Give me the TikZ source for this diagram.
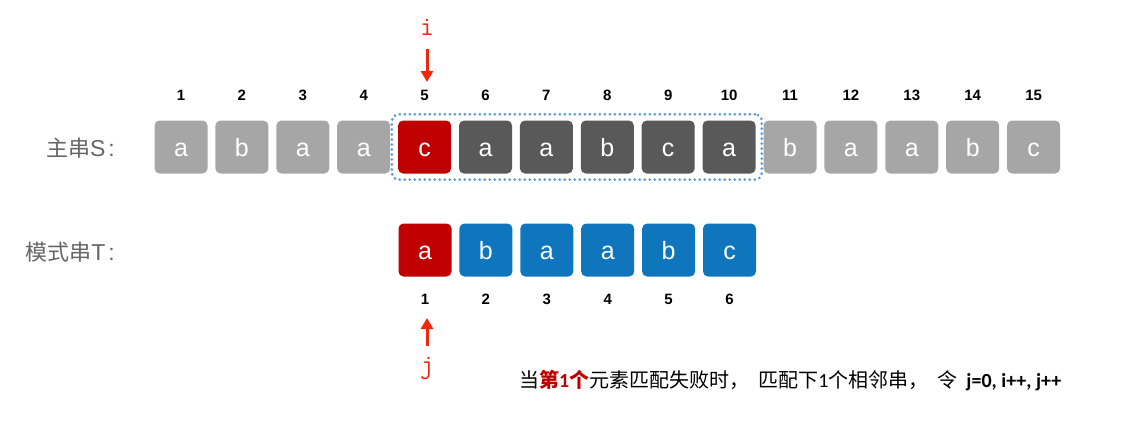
\documentclass[tikz,border=0pt]{standalone}
\usepackage{fontspec}
\setmainfont{Liberation Sans}
\newfontfamily\cjk{Noto Sans CJK SC}
\newfontfamily\carl{Carlito}
\usetikzlibrary{arrows.meta,fit}
\definecolor{cl}{HTML}{A6A6A6}
\definecolor{cd}{HTML}{595959}
\definecolor{cr}{HTML}{C00000}
\definecolor{cb}{HTML}{0F75BC}
\definecolor{cdot}{HTML}{5B9BD5}
\definecolor{carr}{HTML}{F0260F}
\definecolor{clab}{HTML}{666666}
\tikzset{
  cell/.style={rounded corners=5pt, minimum width=53pt, minimum height=53pt, inner sep=0pt,
    text=white, text height=19pt, text depth=0pt, font=\fontsize{25}{25}\selectfont},
  sl/.style={cell, fill=cl},
  sd/.style={cell, fill=cd},
  sr/.style={cell, fill=cr},
  tb/.style={cell, fill=cb},
  num/.style={inner sep=0pt, text height=11pt, text depth=0pt, font=\bfseries\fontsize{15}{15}\selectfont},
  lab/.style={inner sep=0pt, anchor=east, text=clab, font=\fontsize{23}{23}\selectfont},
  ptr/.style={inner sep=0pt, text=carr, font=\ttfamily\fontsize{27}{27}\selectfont},
  arr/.style={draw=carr, line width=3pt, -{Triangle[length=11pt,width=12pt]}},
}
\begin{document}
\begin{tikzpicture}[x=1pt,y=-1pt]
\useasboundingbox (0,0) rectangle (1124,429);
\foreach \ch/\st [count=\k] in {a/sl,b/sl,a/sl,a/sl,c/sr,a/sd,a/sd,b/sd,c/sd,a/sd,b/sl,a/sl,a/sl,b/sl,c/sl} {
  \node[\st] (s\k) at ({181+60.9*(\k-1)},147) {\ch};
  \node[num] (sn\k) at ({181+60.9*(\k-1)},95) {\k};
}
\foreach \ch/\st [count=\k] in {a/sr,b/tb,a/tb,a/tb,b/tb,c/tb} {
  \node[\st] (t\k) at ({425+60.9*(\k-1)},250) {\ch};
  \node[num] (tn\k) at ({425+60.9*(\k-1)},299) {\k};
}
\node[fit=(s5)(s10), draw=cdot, line width=3pt, line cap=round, dash pattern=on 0pt off 5pt,
  rounded corners=7pt, inner sep=6pt] (win) {};
\node[lab] (ls) at (115,148) {{\cjk\fontsize{22}{22}\selectfont 主串}S\hspace{3pt}:};
\node[lab] (lt) at (115,252) {{\cjk\fontsize{22}{22}\selectfont 模式串}T\hspace{3pt}:};
\node[ptr] (i) at (427,27) {i};
\coordinate (itip) at (427,82);
\draw[arr] (427,49) -- (itip);
\node[ptr] (j) at (427,368) {j};
\coordinate (jtip) at (427,318);
\draw[arr] (427,346) -- (jtip);
\node[anchor=west, inner sep=0pt, font=\cjk\fontsize{20}{20}\selectfont] (txt) at (519,381)
  {当\textcolor{cr}{\bfseries 第{\carl 1}个}元素匹配失败时，\hspace{9pt}匹配下{\carl 1}个相邻串，\hspace{9pt}令\hspace{9pt}{\carl\bfseries j=0, i++, j++}};
\end{tikzpicture}
\end{document}
